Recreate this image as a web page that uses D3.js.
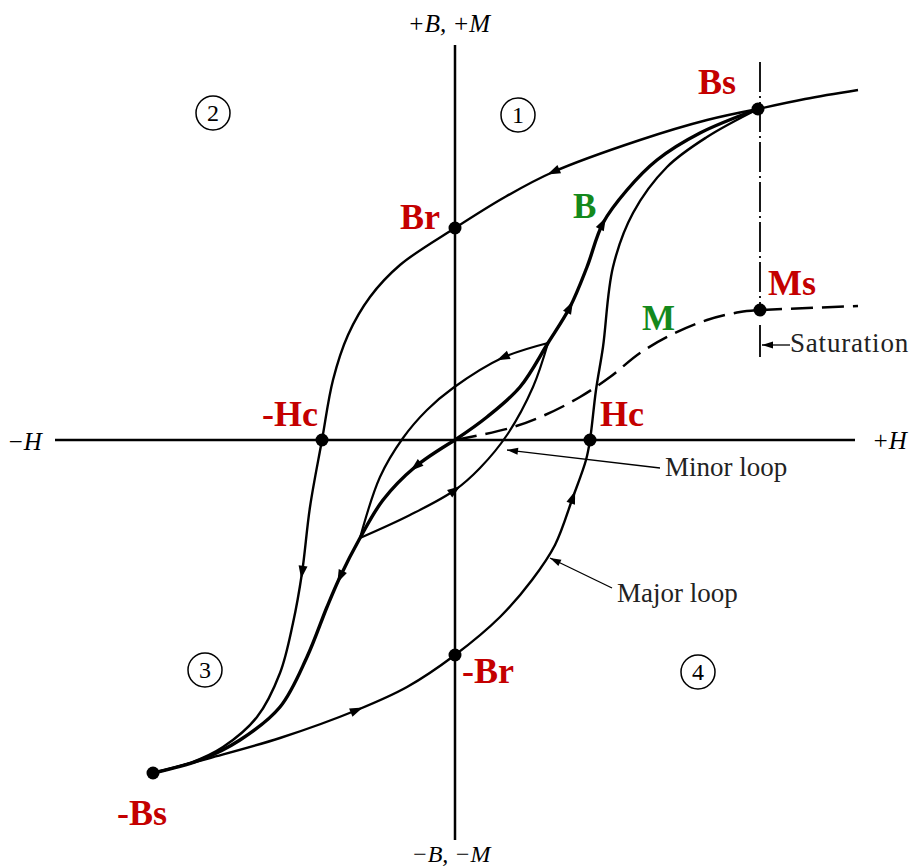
<!DOCTYPE html>
<html>
<head>
<meta charset="utf-8">
<script src="https://cdn.jsdelivr.net/npm/d3@7/dist/d3.min.js"></script>
<style>
  body { margin: 0; background: #fff; }
</style>
</head>
<body>
<div id="chart"></div>
<script>
// curves as [H, B] pairs (arbitrary units, origin at axis crossing)
const majorUpper = [[303, 331], [252, 320], [185, 300], [98, 268], [50, 243], [0, 212], [-55, 175], [-85, 143],
  [-107, 105], [-122, 60], [-133, 0], [-145, -67], [-153, -133], [-162, -183], [-175, -233], [-198, -277],
  [-232, -307], [-265, -323], [-302, -333]]
const majorLower = [[-302, -333], [-245, -318], [-175, -298], [-98, -270], [-48, -247], [0, -215], [45, -177],
  [77, -140], [100, -105], [118, -57], [131, -20], [135, 0], [141, 50], [148, 93], [158, 173], [178, 227],
  [212, 273], [252, 303], [303, 331]]
const satTail = [[303, 331], [350, 341], [403, 350]]
const initUp = [[0, 0], [32, 23], [65, 53], [93, 97], [115, 133], [132, 173], [148, 217], [172, 250],
  [202, 280], [245, 307], [303, 331]]
const initDown = [[0, 0], [-40, -27], [-72, -60], [-95, -98], [-115, -137], [-128, -167], [-148, -217],
  [-175, -267], [-215, -300], [-255, -320], [-302, -333]]
const minorUpper = [[93, 97], [47, 82], [-2, 52], [-28, 30], [-52, 2], [-75, -37], [-95, -98]]
const minorLower = [[-95, -98], [-45, -75], [0, -50], [25, -28], [52, 5], [78, 53], [93, 97]]
const mCurve = [[0, 0], [55, 12], [90, 25], [125, 43], [155, 63], [185, 87], [218, 106], [252, 120],
  [285, 128], [305, 130]]
const mTail = [[305, 130], [403, 134]]

// labelled points
const pointNames = ['Bs', 'Br', 'Hc', '-Hc', '-Br', '-Bs', 'Ms']
const pointValues = [[303, 331], [0, 212], [135, 0], [-133, 0], [0, -215], [-302, -333], [305, 130]]
const quadrants = ['1', '2', '3', '4']
const quadrantValues = [[63, 325], [-242, 327], [-250, -230], [243, -232]]

const W = 913
const H = 868
const RED = '#c40000'
const GREEN = '#14891c'

const svg = d3.select('#chart').append('svg')
  .attr('width', W)
  .attr('height', H)
  .style('display', 'block')

const x = d3.scaleLinear().domain([-400, 400]).range([55, 855])
const y = d3.scaleLinear().domain([-400, 400]).range([840, 40])

const line = d3.line()
  .x(d => x(d[0]))
  .y(d => y(d[1]))
  .curve(d3.curveCatmullRom.alpha(0.5))

const g = svg.append('g')

// Axes
g.append('line')
  .attr('x1', x(-400)).attr('x2', x(400))
  .attr('y1', y(0)).attr('y2', y(0))
  .attr('stroke', '#000').attr('stroke-width', 2.5)
g.append('line')
  .attr('x1', x(0)).attr('x2', x(0))
  .attr('y1', y(395)).attr('y2', y(-400))
  .attr('stroke', '#000').attr('stroke-width', 2.5)

// saturation dashed line
g.append('line')
  .attr('x1', x(305)).attr('x2', x(305))
  .attr('y1', y(378)).attr('y2', y(130))
  .attr('stroke', '#000').attr('stroke-width', 1.8)
  .attr('stroke-dasharray', '30,4,2,4')
g.append('line')
  .attr('x1', x(305)).attr('x2', x(305))
  .attr('y1', y(115)).attr('y2', y(83))
  .attr('stroke', '#000').attr('stroke-width', 1.8)

function curve (pts, width, dash) {
  return g.append('path')
    .attr('d', line(pts))
    .attr('fill', 'none')
    .attr('stroke', '#000')
    .attr('stroke-width', width)
    .attr('stroke-dasharray', dash || null)
}

function arrowAt (path, pts, idxs) {
  const node = path.node()
  const len = node.getTotalLength()
  idxs.forEach(i => {
    const px = x(pts[i][0])
    const py = y(pts[i][1])
    let best = 0
    let bd = Infinity
    for (let l = 0; l <= len; l += 1) {
      const p = node.getPointAtLength(l)
      const d = (p.x - px) ** 2 + (p.y - py) ** 2
      if (d < bd) { bd = d; best = l }
    }
    const c = node.getPointAtLength(best)
    const a = node.getPointAtLength(Math.max(0, best - 3))
    const b = node.getPointAtLength(Math.min(len, best + 3))
    const ang = Math.atan2(b.y - a.y, b.x - a.x) * 180 / Math.PI
    g.append('path')
      .attr('d', 'M6,0 L-7,-4.5 L-7,4.5 Z')
      .attr('fill', '#000')
      .attr('transform', `translate(${c.x},${c.y}) rotate(${ang})`)
  })
}

const pU = curve(majorUpper, 2.4)
const pL = curve(majorLower, 2.4)
curve(satTail, 2.4)
const pIU = curve(initUp, 3.4)
const pID = curve(initDown, 3.4)
const pMU = curve(minorUpper, 2.2)
const pML = curve(minorLower, 2.2)
curve(mCurve, 2.5, '22,9')
curve(mTail, 2.5, '22,9')

arrowAt(pU, majorUpper, [3, 12])
arrowAt(pL, majorLower, [3, 9])
arrowAt(pIU, initUp, [4, 6])
arrowAt(pID, initDown, [1, 4])
arrowAt(pMU, minorUpper, [1])
arrowAt(pML, minorLower, [2])

// key points
g.selectAll('circle.pt')
  .data(pointValues)
  .join('circle')
  .attr('class', 'pt')
  .attr('cx', d => x(d[0]))
  .attr('cy', d => y(d[1]))
  .attr('r', 6.5)
  .attr('fill', '#000')

// labels for points
const labelOffsets = { Bs: [-60, -15], Br: [-55, 1], Hc: [10, -14], '-Hc': [-60, -14], '-Br': [7, 28], '-Bs': [-36, 52], Ms: [8, -15] }
g.selectAll('text.ptl')
  .data(pointNames)
  .join('text')
  .attr('class', 'ptl')
  .attr('x', (d, i) => x(pointValues[i][0]) + labelOffsets[d][0])
  .attr('y', (d, i) => y(pointValues[i][1]) + labelOffsets[d][1])
  .attr('font-family', '"Liberation Serif", serif')
  .attr('font-weight', 'bold')
  .attr('font-size', 36)
  .attr('fill', RED)
  .text(d => d)

// B and M curve names
g.append('text')
  .attr('x', 573).attr('y', 218)
  .attr('font-family', '"Liberation Serif", serif')
  .attr('font-weight', 'bold').attr('font-size', 35)
  .attr('fill', GREEN)
  .text('B')
g.append('text')
  .attr('x', 642).attr('y', 330)
  .attr('font-family', '"Liberation Serif", serif')
  .attr('font-weight', 'bold').attr('font-size', 35)
  .attr('fill', GREEN)
  .text('M')

// circled quadrant numbers
const qg = g.selectAll('g.q')
  .data(quadrants)
  .join('g')
  .attr('class', 'q')
  .attr('transform', (d, i) => `translate(${x(quadrantValues[i][0])},${y(quadrantValues[i][1])})`)
qg.append('circle')
  .attr('r', 17)
  .attr('fill', 'none')
  .attr('stroke', '#000')
  .attr('stroke-width', 1.5)
qg.append('text')
  .attr('text-anchor', 'middle')
  .attr('dy', 8)
  .attr('font-family', '"Liberation Serif", serif')
  .attr('font-size', 24)
  .text(d => d)

// axis titles
const italic = sel => sel
  .attr('font-family', '"Liberation Serif", serif')
  .attr('font-style', 'italic')
  .attr('font-size', 25)
  .attr('fill', '#000')
g.append('text').call(italic).attr('x', 449).attr('y', 32).attr('text-anchor', 'middle').text('+B, +M')
g.append('text').call(italic).attr('x', 451).attr('y', 862).attr('font-size', 24).attr('text-anchor', 'middle').text('\u2212B, \u2212M')
g.append('text').call(italic).attr('x', 7).attr('y', 450).text('\u2212H')
g.append('text').call(italic).attr('x', 872).attr('y', 449).text('+H')

// annotation leaders
const notes = ['Minor loop', 'Major loop', 'Saturation']
const noteFrom = [[205, -28], [157, -148], [335, 95]]
const noteTo = [[52, -10], [95, -118], [307, 95]]
const noteText = [[210, -36], [162, -162], [335, 88]]

notes.forEach((t, i) => {
  const x1 = x(noteFrom[i][0]); const y1 = y(noteFrom[i][1])
  const x2 = x(noteTo[i][0]); const y2 = y(noteTo[i][1])
  g.append('line')
    .attr('x1', x1).attr('y1', y1).attr('x2', x2).attr('y2', y2)
    .attr('stroke', '#000').attr('stroke-width', 1.3)
  const ang = Math.atan2(y2 - y1, x2 - x1) * 180 / Math.PI
  g.append('path')
    .attr('d', 'M0,0 L-11,-3.5 L-11,3.5 Z')
    .attr('fill', '#000')
    .attr('transform', `translate(${x2},${y2}) rotate(${ang})`)
  g.append('text')
    .attr('x', x(noteText[i][0]))
    .attr('y', y(noteText[i][1]))
    .attr('font-family', '"Liberation Serif", serif')
    .attr('font-size', 27)
    .attr('letter-spacing', i === 2 ? 0.8 : 0)
    .attr('fill', '#222')
    .text(t)
})
</script>
</body>
</html>
